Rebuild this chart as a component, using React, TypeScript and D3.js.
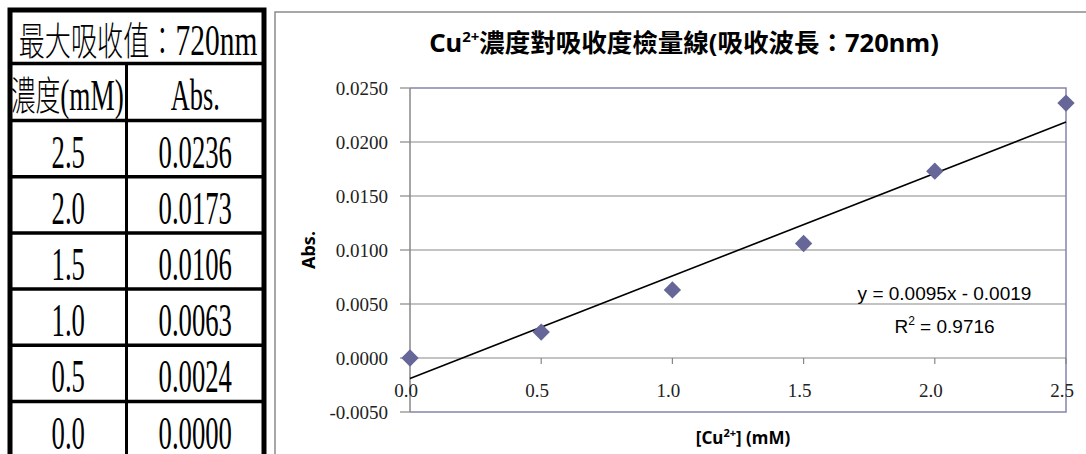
import React from 'react';
import * as d3 from 'd3';

const concentrations = [2.5, 2.0, 1.5, 1.0, 0.5, 0.0];
const absorbances = [0.0236, 0.0173, 0.0106, 0.0063, 0.0024, 0.0];
const yTicks = [-0.005, 0, 0.005, 0.01, 0.015, 0.02, 0.025];
const xTicks = [0, 0.5, 1.0, 1.5, 2.0, 2.5];
const trendSlope = 0.0095;
const trendIntercept = -0.0019;
const rSquared = 0.9716;

const W = 1086;
const H = 454;

// table geometry
const tbl = { left: 10, right: 264, mid: 126.5, top: 10, titleBottom: 63.5, headBottom: 120.5, rowH: 56.2 };
const cellFont = 46;

// chart geometry
const plot = { left: 410, right: 1066, top: 88, bottom: 412 };

// plain hyphen for negatives, like the reference
const locale = d3.formatLocale({ decimal: '.', thousands: ',', grouping: [3], currency: ['', ''], minus: '-' });

const App = () => {
  const xScale = d3.scaleLinear().domain([0, 2.5]).range([plot.left, plot.right]);
  const yScale = d3.scaleLinear().domain([-0.005, 0.025]).range([plot.bottom, plot.top]);
  const rowTop = (i: number) => tbl.headBottom + i * tbl.rowH;
  const fmtY = locale.format('.4f');
  const fmtX = locale.format('.1f');

  const trend = d3
    .line<number>()
    .x((d) => xScale(d))
    .y((d) => yScale(trendSlope * d + trendIntercept))([0, 2.5]);

  const diamond = d3.symbol(d3.symbolSquare, 150)();
  const serif = 'Liberation Serif, DejaVu Serif, serif';
  const cjk = 'Noto Sans CJK TC, Noto Sans CJK SC, sans-serif';
  const sans = 'Noto Sans, Noto Sans CJK TC, sans-serif';

  const cellText = (cx: number, base: number, sx: number, content: React.ReactNode, key?: string) => (
    <text
      key={key}
      transform={`translate(${cx},${base}) scale(${sx},1)`}
      textAnchor="middle"
      fontSize={cellFont}
      fontFamily={serif}
      fill="#000"
    >
      {content}
    </text>
  );

  const leftCx = (tbl.left + tbl.mid) / 2;
  const rightCx = (tbl.mid + tbl.right) / 2;
  const eqX = 944.5;

  return (
    <svg width={W} height={H} style={{ position: 'absolute', left: 0, top: 0, background: '#fff' }}>
      {/* ---------- table ---------- */}
      <g>
        {cellText(
          (tbl.left + tbl.right) / 2 + 1,
          tbl.top + 45,
          0.67,
          <>
            <tspan fontFamily={cjk} fontWeight={300} fontSize={39}>最大吸收值：</tspan>
            <tspan fontSize={44}>720nm</tspan>
          </>
        )}
        {cellText(
          leftCx - 1,
          tbl.titleBottom + 46.5,
          0.62,
          <>
            <tspan fontFamily={cjk} fontWeight={300} fontSize={40}>濃度</tspan>
            <tspan fontSize={44}>(mM)</tspan>
          </>
        )}
        {cellText(rightCx, tbl.titleBottom + 46.5, 0.6, <tspan fontSize={44}>Abs.</tspan>)}
        {concentrations.map((c, i) => cellText(leftCx, rowTop(i) + 47, 0.58, fmtX(c), `c${i}`))}
        {absorbances.map((a, i) => cellText(rightCx, rowTop(i) + 47, 0.58, fmtY(a), `a${i}`))}

        {/* inner rules */}
        <line x1={tbl.left} x2={tbl.right} y1={tbl.titleBottom} y2={tbl.titleBottom} stroke="#000" strokeWidth={3.5} />
        <line x1={tbl.left} x2={tbl.right} y1={tbl.headBottom} y2={tbl.headBottom} stroke="#000" strokeWidth={3.5} />
        {concentrations.map((_, i) => (
          <line key={i} x1={tbl.left} x2={tbl.right} y1={rowTop(i + 1)} y2={rowTop(i + 1)} stroke="#000" strokeWidth={3.5} />
        ))}
        <line x1={tbl.mid} x2={tbl.mid} y1={tbl.titleBottom} y2={H + 10} stroke="#000" strokeWidth={3} />
        {/* outer frame */}
        <path
          d={`M${tbl.left},${H + 10}V${tbl.top}H${tbl.right}V${H + 10}`}
          fill="none"
          stroke="#000"
          strokeWidth={5}
        />
      </g>

      {/* ---------- chart ---------- */}
      <rect x={275} y={12} width={830} height={470} fill="#fff" stroke="#8a8a8a" strokeWidth={1.5} />

      <text x={684} y={52} textAnchor="middle" fontSize={25.5} fontWeight="bold" fontFamily={sans} fill="#000">
        <tspan>Cu</tspan>
        <tspan dy={-10} fontSize={15}>2+</tspan>
        <tspan dy={10}>濃度對吸收度檢量線(吸收波長：720nm)</tspan>
      </text>

      {/* gridlines */}
      {yTicks.slice(1, -1).map((t) => (
        <line key={t} x1={plot.left} x2={plot.right} y1={yScale(t)} y2={yScale(t)} stroke="#878787" strokeWidth={1.2} />
      ))}

      {/* plot border (top/right/bottom) */}
      <path
        d={`M${plot.left},${plot.top}H${plot.right}V${plot.bottom}H${plot.left}`}
        fill="none"
        stroke="#8484b0"
        strokeWidth={1.5}
      />

      {/* y axis */}
      <line x1={plot.left} x2={plot.left} y1={plot.top} y2={plot.bottom} stroke="#878787" strokeWidth={1.5} />
      {yTicks.map((t) => (
        <g key={t}>
          <line x1={plot.left - 10} x2={plot.left} y1={yScale(t)} y2={yScale(t)} stroke="#878787" strokeWidth={1.2} />
          <text x={388} y={yScale(t)} dy="0.35em" textAnchor="end" fontSize={19} fontFamily={serif} fill="#222">
            {fmtY(t)}
          </text>
        </g>
      ))}

      {/* x axis at y = 0 */}
      {xTicks.map((t) => (
        <g key={t}>
          <line x1={xScale(t)} x2={xScale(t)} y1={yScale(0)} y2={yScale(0) + 6} stroke="#878787" strokeWidth={1.2} />
          <text x={xScale(t) - 4} y={yScale(0) + 39} textAnchor="middle" fontSize={19} fontFamily={serif} fill="#222">
            {fmtX(t)}
          </text>
        </g>
      ))}

      {/* axis titles */}
      <text
        transform={`translate(315,${(plot.top + plot.bottom) / 2}) rotate(-90)`}
        textAnchor="middle"
        fontSize={18}
        fontWeight="bold"
        fontFamily={sans}
        fill="#000"
      >
        Abs.
      </text>
      <text x={743} y={444} textAnchor="middle" fontSize={17} fontWeight="bold" fontFamily={sans} fill="#000">
        <tspan>[Cu</tspan>
        <tspan dy={-7} fontSize={11}>2+</tspan>
        <tspan dy={7}>] (mM)</tspan>
      </text>

      {/* trendline */}
      <path d={trend ?? ''} fill="none" stroke="#000" strokeWidth={1.6} />

      {/* markers */}
      {concentrations.map((c, i) => (
        <path
          key={i}
          d={diamond ?? ''}
          transform={`translate(${xScale(c)},${yScale(absorbances[i])}) rotate(45)`}
          fill="#666699"
        />
      ))}

      {/* equation */}
      <text x={eqX} y={300} textAnchor="middle" fontSize={19} fontFamily="Liberation Sans, Arial, sans-serif" fill="#000">
        {`y = ${trendSlope.toFixed(4)}x - ${Math.abs(trendIntercept).toFixed(4)}`}
      </text>
      <text x={eqX} y={333} textAnchor="middle" fontSize={19} fontFamily="Liberation Sans, Arial, sans-serif" fill="#000">
        <tspan>R</tspan>
        <tspan dy={-8} fontSize={12}>2</tspan>
        <tspan dy={8}>{` = ${rSquared.toFixed(4)}`}</tspan>
      </text>
    </svg>
  );
};

export default App;
